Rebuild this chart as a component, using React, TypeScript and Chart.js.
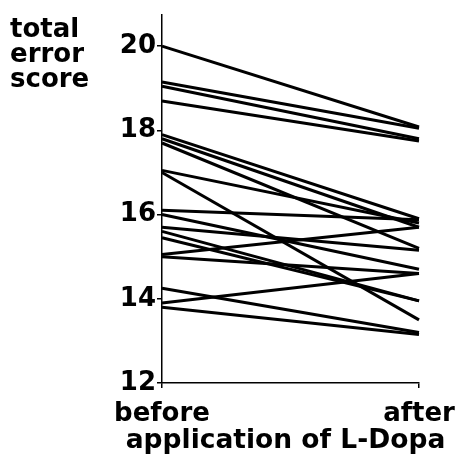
import React, { useEffect, useRef } from "react";
import { Chart, registerables } from "chart.js";

Chart.register(...registerables);

const categories = ["before", "after"];
const beforeScores = [20.0, 19.15, 19.05, 18.7, 17.9, 17.8, 17.7, 17.05, 17.0, 16.1, 16.0, 15.7, 15.6, 15.45, 15.05, 15.0, 14.25, 13.9, 13.8];
const afterScores = [18.08, 18.05, 17.8, 17.75, 15.9, 15.7, 15.2, 15.8, 13.5, 15.88, 14.7, 15.15, 13.95, 13.95, 15.7, 14.6, 13.2, 14.6, 13.15];
const yTicks = [12, 14, 16, 18, 20];
const yTitleLines = ["total", "error", "score"];
const xTitle = "application of L-Dopa";

const FONT = "'DejaVu Sans', sans-serif";

export default function App() {
  const ref = useRef<HTMLCanvasElement | null>(null);

  useEffect(() => {
    document.body.style.margin = "0";
    const canvas = ref.current!;
    const titlePlugin = {
      id: "titles",
      afterDraw(chart: any) {
        const ctx = chart.ctx;
        const area = chart.chartArea;
        ctx.save();
        ctx.fillStyle = "#000";
        ctx.font = `bold 26px ${FONT}`;
        ctx.textAlign = "left";
        ctx.textBaseline = "alphabetic";
        yTitleLines.forEach((t, i) => ctx.fillText(t, 10, 37 + i * 25));
        ctx.font = `bold 26.5px ${FONT}`;
        ctx.textAlign = "center";
        ctx.fillText(xTitle, (area.left + area.right) / 2 - 5, area.bottom + 65);
        ctx.restore();
      },
    };
    const chart = new Chart(canvas, {
      type: "line",
      data: {
        labels: categories,
        datasets: beforeScores.map((b, i) => ({
          data: [b, afterScores[i]],
          borderColor: "#000",
          borderWidth: 3,
          pointRadius: 0,
          tension: 0,
          fill: false,
        })),
      },
      options: {
        animation: false,
        responsive: false,
        layout: { padding: { top: 15, right: 40, left: 0, bottom: 0 } },
        plugins: { legend: { display: false }, tooltip: { enabled: false }, title: { display: false } },
        scales: {
          x: {
            type: "category",
            offset: false,
            grid: { drawOnChartArea: false, drawTicks: true, tickLength: 5, color: "#000", lineWidth: 1.5 },
            border: { color: "#000", width: 1.5 },
            ticks: { font: { family: FONT, weight: "bold", size: 26 }, color: "#000", padding: 11, maxRotation: 0, autoSkip: false },
            title: { display: false },
            afterFit: (s: any) => {
              s.height = 82;
              s.paddingLeft = 0;
              s.paddingRight = 0;
            },
          },
          y: {
            min: 12,
            max: 20.74,
            grid: { drawOnChartArea: false, drawTicks: true, tickLength: 5, color: "#000", lineWidth: 1.5 },
            border: { color: "#000", width: 1.5 },
            ticks: { font: { family: FONT, weight: "bold", size: 26 }, color: "#000", padding: 1 },
            afterBuildTicks: (s: any) => { s.ticks = yTicks.map((v) => ({ value: v })); },
            afterFit: (s: any) => {
              s.width = 162;
              s.paddingTop = 0;
              s.paddingBottom = 0;
            },
          },
        },
      },
      plugins: [titlePlugin],
    });
    return () => chart.destroy();
  }, []);

  return (
    <div style={{ position: "absolute", left: 0, top: 0, width: 459, height: 465 }}>
      <canvas ref={ref} width={459} height={465} style={{ width: 459, height: 465 }} />
    </div>
  );
}
